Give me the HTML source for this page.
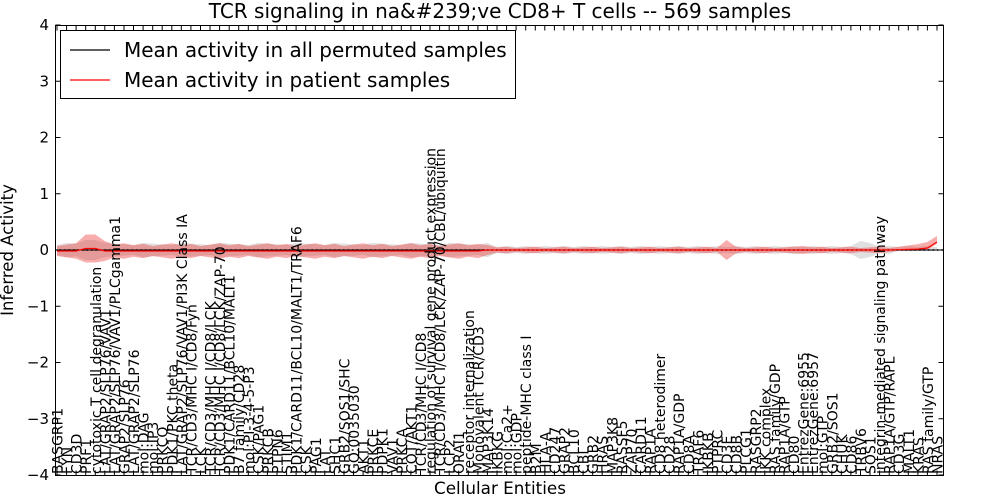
<!DOCTYPE html>
<html><head><meta charset="utf-8"><style>
html,body{margin:0;padding:0;background:#fff;width:1000px;height:500px;overflow:hidden}
svg text{font-family:"DejaVu Sans","Liberation Sans",sans-serif;fill:#000}
</style></head><body>
<svg id="s" width="1000" height="500" xmlns="http://www.w3.org/2000/svg">
<rect x="0" y="0" width="1000" height="500" fill="#fff"/>
<g id="bands"></g>
<line x1="55" y1="250" x2="943" y2="250" stroke="#000" stroke-width="1"/>
<line x1="55" y1="250" x2="943" y2="250" stroke="#000" stroke-width="1.5" stroke-dasharray="1.5,3"/>
<polyline id="redline" fill="none" stroke="#f00" stroke-width="1.2" points=""/>
<g id="labels"></g>
<rect x="55.5" y="25.5" width="888" height="450" fill="none" stroke="#000" stroke-width="1"/>
<g id="ticks" font-size="15"></g>
<text x="500" y="18" font-size="20" text-anchor="middle">TCR signaling in na&amp;#239;ve CD8+ T cells -- 569 samples</text>
<text x="500" y="494" font-size="16.8" text-anchor="middle">Cellular Entities</text>
<text transform="translate(13,250) rotate(-90)" font-size="16.5" text-anchor="middle">Inferred Activity</text>
<rect x="60.5" y="30.5" width="455" height="68" fill="#fff" stroke="#000" stroke-width="1"/>
<line x1="70" y1="50" x2="110" y2="50" stroke="#000" stroke-width="1.2"/>
<text x="124" y="57" font-size="20">Mean activity in all permuted samples</text>
<line x1="70" y1="80" x2="110" y2="80" stroke="#f00" stroke-width="1.2"/>
<text x="124" y="87" font-size="20">Mean activity in patient samples</text>
</svg>
<script>
var L=["BASGRP1","FYN","CD3D","PRF1","cytotoxic T cell degranulation","LAT/GRAP2/SLP76/VAV1","LAT/GRAP2/SLP76/VAV1/PLCgamma1","GRAP2/SLP76","LAT/GRAP2/SLP76","mol:DAG","mol:IP3","PRKCQ","PDK1/PKC theta","LAT/GRAP2/SLP76/VAV1/PI3K Class IA","TCR/CD3/MHC I/CD8/Fyn","LCK","TCR/CD3/MHC I/CD8/LCK","TCR/CD3/MHC I/CD8/LCK/ZAP-70","PDK1/CARD11/BCL10/MALT1","B7 family/CD28","mol:PI-3-4-5-P3","CSK/PAG1","PRKCB","PTPN6","STIM1","PDK1/CARD11/BCL10/MALT1/TRAF6","CSK","PAG1","LAT","SHC1","GRB2/SOS1/SHC","GO:0035030","AKT1","PRKCE","PDPK1","VAV1","PRKCA","COT/AKT1","TCR/CD3/MHC I/CD8","regulation of survival gene product expression","TCR/CD3/MHC I/CD8/LCK/ZAP-70/CBL/ubiquitin","LCP2","ORAI1","receptor internalization","Monovalent TCR/CD3","MAP3K14","IKBKG","mol:Ca2+","mol:GDP","peptide-MHC class I","B2M","HLA-A","CD247","GRAP2","BCL10","CBL","GRB2","HRAS","MAP3K8","RASSF5","ZAP70","CARD11","RAP1A","CD8 heterodimer","CD28","RAP1A/GDP","CD8A","TRAF6","IKBKB","PTPRC","CD3E","CD8B","PLCG1","RASGRP2","IKK complex","RAS family/GDP","RAP1A/GTP","CD80","EntrezGene:6955","EntrezGene:6957","mol:GTP","GRB2/SOS1","CHUK","CD86","TRBV6","SOS1","integrin-mediated signaling pathway","RAP1A/GTP/RAPL","CD3G","MALT1","KRAS","RAS family/GTP","NRAS"];
var NS="http://www.w3.org/2000/svg",n=L.length,x0=57,dx=(937-57)/(n-1);
var g=document.getElementById("labels");
L.forEach(function(t,i){var e=document.createElementNS(NS,"text");var x=x0+i*dx+5.5;
e.setAttribute("transform","translate("+x.toFixed(1)+",474) rotate(-90)");e.setAttribute("font-size","14");e.textContent=t;g.appendChild(e);});
var tk=document.getElementById("ticks");
for(var v=4;v>=-4;v--){var y=250-v*56.25;
var t=document.createElementNS(NS,"text");t.setAttribute("x","49");t.setAttribute("y",(y+5).toFixed(1));t.setAttribute("text-anchor","end");t.textContent=(v<0?"\u2212":"")+Math.abs(v);tk.appendChild(t);
["M55.5 "+y+"h5","M943.5 "+y+"h-5"].forEach(function(d){var p=document.createElementNS(NS,"path");p.setAttribute("d",d);p.setAttribute("stroke","#000");tk.appendChild(p);});}
for(var i=0;i<n;i++){var x=x0+i*dx;["M"+x.toFixed(1)+" 475.5v-5","M"+x.toFixed(1)+" 25.5v5"].forEach(function(d){var p=document.createElementNS(NS,"path");p.setAttribute("d",d);p.setAttribute("stroke","#000");tk.appendChild(p);});}
function mean(i){if(i<88)return i<45?(i==3||i==4?-1.5:1):0;if(i==92)return -8;if(i==91)return -2;return -(i-87)*0.3;}
function rw(i){if(i==3||i==4)return 14;if(i==5)return 10;if(i<46)return 5+((i*7)%5)*0.7;if(i==70)return 10;if(i==78)return 4;if(i>=88)return i==92?6:3+(i-88)*1;return 2+(i%3)*0.6;}
function gw(i){if(i==3||i==4)return 10;if(i<46)return 5+((i*3)%4)*0.7;if(i==84)return 9;if(i==85)return 7;return 3+(i%2);}
function band(w,col,op,m){var top=[],bot=[];for(var i=0;i<n;i++){var x=(x0+i*dx).toFixed(1),c=250+m(i);top.push(x+","+(c-w(i)).toFixed(1));bot.unshift(x+","+(c+w(i)*(i>=88?0.3:1)).toFixed(1));}
var p=document.createElementNS(NS,"polygon");p.setAttribute("points",top.concat(bot).join(" "));p.setAttribute("fill",col);p.setAttribute("fill-opacity",op);document.getElementById("bands").appendChild(p);}
band(gw,"#999","0.3",function(){return 0;});
band(rw,"#e33","0.4",mean);
var pts=[];for(var i=0;i<n;i++)pts.push((x0+i*dx).toFixed(1)+","+(250+mean(i)).toFixed(1));
document.getElementById("redline").setAttribute("points",pts.join(" "));
</script>
</body></html>
